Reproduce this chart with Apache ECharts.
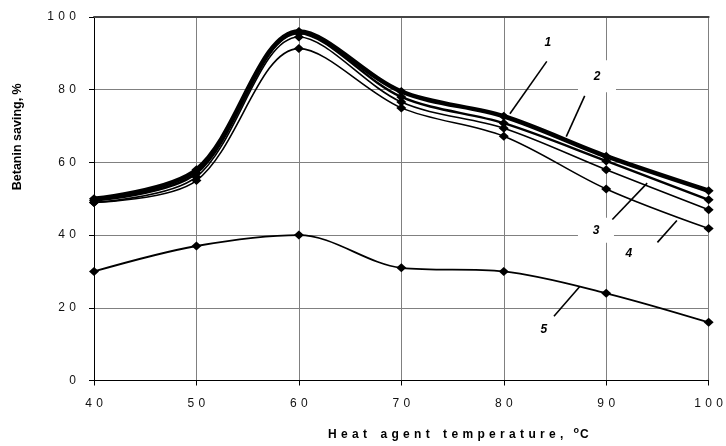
<!DOCTYPE html>
<html>
<head>
<meta charset="utf-8">
<script src="https://cdn.jsdelivr.net/npm/echarts@6/dist/echarts.min.js"></script>
<style>
  html, body { margin: 0; padding: 0; background: #fff; }
  #chart { width: 726px; height: 446px; }
</style>
</head>
<body>
<div id="chart"></div>
<script>
// temperature points, °C
var temps = [40, 50, 60, 70, 80, 90, 100];
// betanin saving, % (curves 1..5)
var curve1 = [50, 58, 96, 79.5, 72.7, 61.7, 52.2];
var curve2 = [49.5, 57, 95.5, 78, 70.8, 60.4, 49.7];
var curve3 = [49, 56, 94.5, 76.6, 69.4, 58, 47];
var curve4 = [49, 55, 91.3, 75, 67.2, 52.7, 41.8];
var curve5 = [30, 37, 40, 31, 30, 24, 16];

// curve numbers with leader lines, in data coords
var notes = [
  { text: '1', at: [84.3, 92.9], from: [84.2, 87.8], to: [80.6, 73.4], box: null },
  { text: '2', at: [89.1, 83.7], from: [87.9, 78.3], to: [86.1, 67.1], box: [38, 32] },
  { text: '3', at: [89.0, 41.3], from: [90.6, 44.3], to: [94.0, 54.3], box: [36, 25] },
  { text: '4', at: [92.2, 34.8], from: [95.0, 38.0], to: [96.9, 44.0], box: null },
  { text: '5', at: [83.9, 14.1], from: [84.9, 17.7], to: [87.4, 25.8], box: null }
];

var FONT = 'Liberation Sans, Arial, sans-serif';
var GAP = ' \u200A';

function pairs(ys) {
  return temps.map(function (t, i) { return [t, ys[i]]; });
}
function spaced(v) {
  return String(v).split('').join(GAP);
}

function line(name, ys, w) {
  return {
    name: name,
    type: 'line',
    data: pairs(ys),
    smooth: 0.33,
    smoothMonotone: 'none',
    symbol: 'diamond',
    symbolSize: [10, 9],
    itemStyle: { color: '#000' },
    lineStyle: { color: '#000', width: w },
    emphasis: { disabled: true },
    z: 3
  };
}

var chart = echarts.init(document.getElementById('chart'));

chart.setOption({
  animation: false,
  grid: { left: 94, right: 14, top: 17, bottom: 61 },
  xAxis: [{
    type: 'value',
    min: 40, max: 100, interval: 10,
    name: spaced('Heat') + '    ' + spaced('agent') + '    ' + spaced('temperature,') + '   {sup|o}C',
    nameLocation: 'middle',
    nameGap: 46,
    nameTextStyle: {
      fontFamily: FONT, fontSize: 12, fontWeight: 'bold', color: '#000',
      padding: [0, 0, 0, 114],
      rich: { sup: { fontSize: 9, fontWeight: 'bold', fontFamily: FONT, verticalAlign: 'top', padding: [0, 1, 8, 0] } }
    },
    axisLine: { lineStyle: { color: '#000', width: 1 } },
    axisTick: { length: 5, lineStyle: { color: '#000' } },
    axisLabel: { margin: 17, fontFamily: FONT, fontSize: 12, color: '#111', formatter: spaced },
    splitLine: { lineStyle: { color: '#808080', width: 1 } }
  }, {
    type: 'value',
    position: 'top',
    min: 40, max: 100,
    axisLine: { lineStyle: { color: '#444', width: 2 } },
    axisTick: { show: false },
    axisLabel: { show: false },
    splitLine: { show: false }
  }],
  yAxis: {
    type: 'value',
    min: 0, max: 100, interval: 20,
    name: 'Betanin saving, %',
    nameLocation: 'middle',
    nameGap: 70,
    nameTextStyle: {
      fontFamily: FONT, fontSize: 12.5, fontWeight: 'bold', color: '#000',
      padding: [0, 0, 0, 124]
    },
    axisLine: { show: true, lineStyle: { color: '#000', width: 1 } },
    axisTick: { show: true, length: 5, lineStyle: { color: '#000' } },
    axisLabel: { margin: 18, fontFamily: FONT, fontSize: 12, color: '#111', formatter: spaced },
    splitLine: { lineStyle: { color: '#808080', width: 1 } }
  },
  series: [
    line('1', curve1, 4.5),
    line('2', curve2, 2.5),
    line('3', curve3, 1.6),
    line('4', curve4, 1.6),
    line('5', curve5, 1.8)
  ]
});

// place the curve numbers after the axes exist
var els = [];
notes.forEach(function (n) {
  var p = chart.convertToPixel({ gridIndex: 0 }, n.at);
  var a = chart.convertToPixel({ gridIndex: 0 }, n.from);
  var b = chart.convertToPixel({ gridIndex: 0 }, n.to);
  if (n.box) {
    els.push({
      type: 'rect', z: 50,
      shape: { x: p[0] - n.box[0] / 2, y: p[1] - n.box[1] / 2, width: n.box[0], height: n.box[1] },
      style: { fill: '#fff' }
    });
  }
  els.push({
    type: 'line', z: 60,
    shape: { x1: a[0], y1: a[1], x2: b[0], y2: b[1] },
    style: { stroke: '#000', lineWidth: 1.6 }
  });
  els.push({
    type: 'text', z: 60, x: p[0], y: p[1],
    style: {
      text: n.text, fill: '#000', align: 'center', verticalAlign: 'middle',
      font: 'italic bold 12px ' + FONT
    }
  });
});
chart.setOption({ graphic: els });
</script>
</body>
</html>
